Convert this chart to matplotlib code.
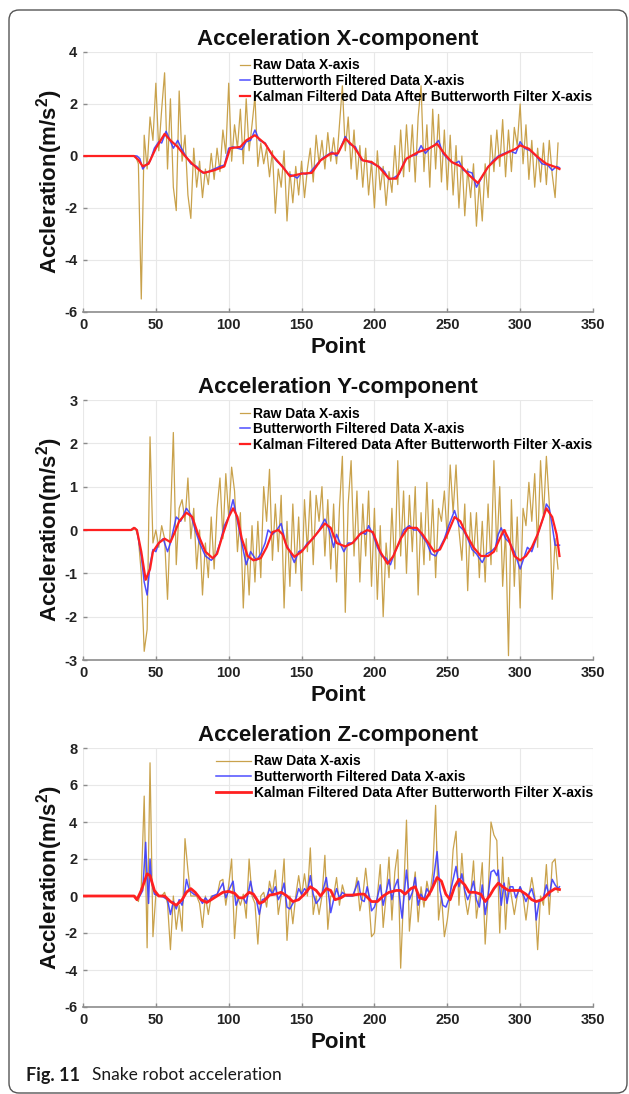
import numpy as np
import matplotlib
matplotlib.use("Agg")
import matplotlib.pyplot as plt
from matplotlib.patches import FancyBboxPatch
from matplotlib.transforms import IdentityTransform

plt.rcParams['font.family'] = ['Liberation Sans', 'DejaVu Sans']
plt.rcParams['mathtext.fontset'] = 'custom'
plt.rcParams['mathtext.rm'] = 'Liberation Sans:bold'
plt.rcParams['mathtext.bf'] = 'Liberation Sans:bold'
plt.rcParams['mathtext.it'] = 'Liberation Sans:bold'
plt.rcParams['axes.unicode_minus'] = False

# ---------------- data ----------------
raw_start, raw_stop, raw_step = 34, 327, 2   # sample index grid of the raw lists

raw_x_axis = [
    0, 0.0, -0.3, -5.5, 0.8, -0.5, 1.5, 0.6, 2.8, 0.2,
    1.8, 3.2, -0.5, 2.2, -1.2, -2.1, 2.5, -0.2, 0.8, -1.5,
    -2.4, 0.3, -1.2, -0.2, -1.6, -0.5, -1.1, 0.1, -0.9, 0.3,
    -0.6, 1.0, 0.1, 2.8, -0.2, 1.2, 0.3, 1.8, -0.3, 2.2,
    0.2, 1.2, 2.3, -0.4, 0.5, -0.3, 0.3, -0.8, 0.2, -2.2,
    -0.5, -1.2, 0.2, -2.5, -0.6, -1.8, -0.4, -1.5, -0.2, -1.6,
    -0.5, 0.3, -1.0, 0.8, -0.3, 0.6, -0.5, 0.9, -0.2, 0.7,
    -0.3, 1.2, 2.7, 0.2, 1.5, -0.5, 1.0, -0.9, 0.4, -1.2,
    0.3, -1.5, -0.2, -2.0, 0.2, -1.3, -0.4, -1.9, -0.6, -1.4,
    0.4, -1.1, 1.0, -0.8, 1.2, -0.6, 1.2, -1.0, 1.5, 2.7,
    -0.6, 1.2, -1.2, 1.8, -0.5, 1.6, -1.0, 1.0, -1.3, 0.8,
    -1.5, 0.4, -2.0, 0.0, -2.3, -0.5, -1.6, -0.3, -2.7, -1.0,
    -2.5, -0.3, -1.6, 0.8, -0.6, 1.0, -0.4, 1.4, -0.8, 1.0,
    -0.6, 1.1, 0.4, 2.0, -0.3, 1.2, -0.9, 0.6, -1.2, 0.3,
    -1.0, 0.5, -1.1, 0.6, -0.7, -1.6, 0.5]

bw_x_pts = [1, 35, 37, 39, 41, 43, 46, 49, 52, 54,
            57, 59, 62, 65, 67, 70, 74, 78, 82, 86,
            90, 94, 97, 100, 103, 106, 109, 112, 115, 118,
            121, 125, 129, 133, 137, 141, 144, 147, 150, 153,
            156, 160, 164, 168, 171, 174, 177, 180, 183, 187,
            191, 195, 199, 203, 207, 210, 213, 217, 221, 225,
            229, 232, 235, 238, 241, 244, 247, 251, 255, 258,
            261, 264, 267, 270, 273, 277, 281, 285, 289, 293,
            297, 300, 303, 307, 311, 315, 319, 322, 325, 327]
bw_x_val = [0, 0, 0.0, -0.1, -0.5, -0.35, -0.2, 0.3, 0.55, 0.5,
            0.95, 0.7, 0.3, 0.6, 0.35, 0.05, -0.3, -0.4, -0.65, -0.6,
            -0.5, -0.4, -0.35, 0.3, 0.35, 0.3, 0.25, 0.55, 0.6, 1.0,
            0.6, 0.5, 0.1, -0.2, -0.4, -0.7, -0.75, -0.85, -0.65, -0.7,
            -0.62, -0.35, -0.1, 0.05, 0.15, 0.0, 0.35, 0.75, 0.45, 0.35,
            -0.15, -0.2, -0.3, -0.4, -0.6, -0.9, -0.85, -0.7, -0.15, 0.0,
            0.05, 0.4, 0.1, 0.3, 0.4, 0.6, 0.1, -0.15, -0.3, -0.2,
            -0.55, -0.6, -0.65, -1.2, -0.9, -0.5, -0.2, 0.0, 0.1, 0.2,
            0.1, 0.55, 0.3, 0.2, 0.0, -0.3, -0.35, -0.55, -0.4, -0.45]

kf_x_pts = [1, 35, 38, 41, 45, 50, 56, 60, 65, 70,
            75, 80, 83, 90, 97, 101, 108, 112, 118, 125,
            130, 137, 142, 150, 157, 163, 170, 175, 180, 186,
            192, 198, 203, 210, 215, 222, 230, 237, 243, 248,
            253, 260, 265, 271, 278, 285, 292, 297, 300, 306,
            312, 318, 324, 327]
kf_x_val = [0, 0, -0.15, -0.4, -0.3, 0.3, 0.85, 0.6, 0.35, 0.0,
            -0.3, -0.55, -0.65, -0.55, -0.4, 0.3, 0.35, 0.6, 0.8, 0.47,
            0.03, -0.42, -0.78, -0.68, -0.65, -0.17, 0.09, 0.1, 0.67, 0.35,
            -0.17, -0.23, -0.42, -0.87, -0.87, -0.1, 0.15, 0.28, 0.47, 0.09,
            -0.23, -0.42, -0.74, -1.04, -0.42, -0.04, 0.15, 0.28, 0.41, 0.28,
            -0.04, -0.3, -0.42, -0.5]

raw_y_axis = [
    0, 0.05, -0.2, -1.0, -2.8, -2.3, 2.15, -0.3, 0.0, -0.4,
    0.1, -0.2, -1.6, 0.2, 2.25, -0.8, 0.5, 0.7, 0.2, 1.2,
    -0.2, 0.5, -0.9, 0.0, -1.5, -0.3, -1.1, 0.3, -0.9, 0.5,
    1.2, -0.2, 1.3, 0.3, 1.45, 0.9, -0.5, 0.4, -1.8, -0.2,
    -1.5, 0.1, -1.2, 0.2, -1.1, 1.0, 0.2, 1.4, -0.7, 0.6,
    -0.5, 0.8, -1.8, 0.2, -1.3, 0.6, -1.0, 0.3, -1.4, 0.7,
    -0.5, 0.9, -0.8, 0.8, 0.2, 1.0, -0.6, 0.7, -0.9, 0.6,
    -1.2, 0.5, 1.7, -1.9, 0.6, 1.6, -0.6, 0.9, -1.2, 0.6,
    -0.6, 0.9, -1.3, 0.5, -1.6, 0.1, -2.0, -0.3, -1.1, 0.5,
    -0.9, 1.6, -0.6, 0.9, -1.0, 0.8, -0.5, 1.0, -1.5, 0.4,
    -0.8, 1.1, -0.7, 0.7, -1.1, 0.5, 0.2, 0.9, -0.2, 1.5,
    0.4, 1.5, 0.0, -0.7, 0.6, -1.4, 0.4, -0.6, 0.4, -1.1,
    0.2, -1.2, 0.6, -0.8, 1.6, -0.5, 1.0, -1.3, 0.0, -2.9,
    0.7, -1.3, 0.3, -1.8, 0.5, 0.1, 1.1, 0.2, 1.3, -0.4,
    1.6, 0.3, 1.7, 0.6, -1.6, -0.2, -0.9]

bw_y_pts = [1, 33, 35, 37, 40, 42, 44, 46, 48, 50,
            52, 55, 58, 60, 62, 64, 67, 71, 74, 77,
            80, 84, 88, 91, 94, 97, 100, 103, 106, 109,
            112, 115, 119, 122, 125, 127, 130, 133, 136, 139,
            142, 145, 148, 151, 154, 158, 162, 166, 169, 172,
            174, 177, 179, 182, 185, 188, 191, 194, 196, 199,
            202, 205, 208, 211, 214, 217, 220, 224, 227, 230,
            233, 236, 239, 242, 245, 248, 251, 255, 258, 261,
            264, 267, 270, 274, 277, 280, 283, 285, 287, 290,
            293, 296, 300, 303, 305, 308, 311, 314, 316, 318,
            320, 322, 324, 327]
bw_y_val = [0, 0, 0.05, 0.0, -0.6, -1.2, -1.5, -0.8, -0.45, -0.5,
            -0.3, -0.2, -0.5, -0.3, 0.0, 0.3, 0.2, 0.5, 0.35, 0.0,
            -0.3, -0.6, -0.7, -0.6, -0.3, 0.1, 0.3, 0.7, 0.2, -0.3,
            -0.8, -0.5, -0.7, -0.55, -0.3, 0.0, -0.1, 0.0, 0.15, -0.3,
            -0.5, -0.75, -0.5, -0.45, -0.3, -0.2, 0.0, 0.25, 0.0, -0.4,
            -0.1, -0.35, -0.5, -0.3, -0.3, -0.2, -0.05, -0.1, 0.1, -0.1,
            -0.4, -0.6, -0.65, -0.8, -0.5, -0.3, 0.0, 0.1, 0.0, 0.0,
            -0.15, -0.3, -0.55, -0.6, -0.4, -0.2, 0.1, 0.45, 0.1, 0.0,
            -0.2, -0.45, -0.55, -0.75, -0.55, -0.5, -0.4, -0.1, 0.05, -0.2,
            -0.3, -0.5, -0.9, -0.6, -0.4, -0.5, -0.2, 0.1, 0.3, 0.6,
            0.5, 0.1, -0.35, -0.35]

kf_y_pts = [1, 33, 35, 37, 40, 43, 46, 48, 52, 56,
            60, 63, 66, 71, 75, 79, 84, 89, 92, 96,
            100, 103, 106, 109, 113, 117, 122, 126, 130, 134,
            137, 140, 145, 150, 155, 160, 166, 170, 174, 180,
            185, 190, 195, 199, 204, 209, 213, 218, 223, 229,
            233, 237, 241, 245, 250, 255, 259, 263, 268, 273,
            278, 282, 286, 289, 292, 296, 300, 304, 308, 312,
            315, 318, 322, 325, 327]
kf_y_val = [0, 0, 0.05, 0.0, -0.5, -1.15, -0.9, -0.5, -0.3, -0.2,
            -0.28, -0.05, 0.2, 0.4, 0.3, -0.1, -0.5, -0.65, -0.55, -0.1,
            0.3, 0.5, 0.3, -0.2, -0.6, -0.7, -0.65, -0.4, -0.05, 0.0,
            -0.1, -0.4, -0.62, -0.5, -0.3, -0.1, 0.15, 0.05, -0.3, -0.38,
            -0.3, -0.1, 0.0, -0.05, -0.5, -0.78, -0.6, -0.2, 0.05, 0.05,
            -0.1, -0.3, -0.5, -0.45, -0.1, 0.3, 0.2, -0.1, -0.4, -0.6,
            -0.6, -0.5, -0.2, 0.0, -0.2, -0.6, -0.7, -0.6, -0.4, -0.1,
            0.2, 0.5, 0.3, -0.1, -0.6]

raw_z_axis = [
    0, 0, -0.3, 0.5, 5.4, -2.8, 7.2, -2.2, 0.1, 0.0,
    0.0, 0.2, -0.4, -2.9, 0.0, -1.8, -0.5, -1.9, 3.1, 1.4,
    0.0, 0.0, 0.0, -0.4, -1.7, 0.0, -1.0, 0.0, 0.0, 0.0,
    0.8, 0.9, -0.5, 0.6, 2.0, -2.3, 0.0, -0.5, 0.1, -1.2,
    2.0, 0.0, -0.4, -2.6, 0.0, 0.2, -0.6, 0.8, 0.1, 1.4,
    -1.0, 0.0, 2.0, -2.4, 0.0, -1.5, 0.0, 1.1, 0.0, 1.2,
    0.0, 2.6, -1.0, 0.0, -1.0, 0.0, 2.2, -1.8, 0.0, 0.0,
    1.0, -0.5, 0.6, 0.0, 0.0, 0.0, 0.0, 1.0, -0.8, 0.0,
    1.5, 0.0, -2.2, -2.0, 0.0, 1.7, -1.7, 0.0, 2.1, -1.3,
    1.3, 2.5, -3.9, 0.0, 4.1, -1.9, 0.0, 1.3, -1.4, 0.5,
    -0.6, 0.8, 0.0, 1.3, 4.9, -1.3, 0.0, -2.2, -1.3, 0.0,
    2.5, 3.5, -0.5, 2.3, 0.0, -1.0, 0.0, 1.9, -1.2, 0.0,
    1.8, -2.6, 0.0, 4.0, 3.3, 3.0, -2.0, 2.1, -1.8, 1.0,
    0.0, -1.0, 0.0, 0.5, 0.0, -1.3, 0.0, 1.0, 0.0, -2.9,
    0.0, -0.5, 1.7, -1.0, 1.8, 2.0, 0.2]

bw_z_pts = [1, 35, 37, 39, 41, 43, 44, 45, 46, 47,
            49, 52, 55, 58, 60, 62, 64, 66, 68, 70,
            71, 73, 76, 79, 82, 84, 86, 89, 92, 94,
            96, 98, 100, 103, 105, 107, 110, 112, 115, 117,
            119, 121, 123, 126, 128, 130, 132, 134, 136, 138,
            140, 142, 144, 146, 148, 150, 152, 154, 156, 158,
            160, 162, 164, 167, 169, 170, 172, 174, 176, 178,
            181, 185, 189, 191, 193, 195, 197, 198, 200, 202,
            204, 206, 208, 210, 212, 214, 216, 218, 219, 221,
            222, 224, 226, 228, 230, 232, 234, 236, 238, 240,
            243, 245, 247, 249, 251, 254, 256, 258, 260, 262,
            264, 266, 268, 270, 272, 274, 276, 278, 280, 282,
            284, 285, 287, 289, 291, 293, 295, 297, 300, 302,
            304, 306, 308, 310, 311, 313, 316, 318, 320, 322,
            324, 326, 327]
bw_z_val = [0, 0, -0.2, 0.0, 0.3, 2.9, 1.0, -0.4, 2.0, 0.8,
            0.1, 0.0, -0.05, -0.2, -1.0, -0.3, -0.7, -0.2, -0.5, 0.3,
            0.9, 0.3, 0.1, 0.0, -0.4, -0.1, -0.3, 0.0, 0.1, 0.4,
            0.7, -0.1, 0.3, 0.8, -0.5, -0.1, -0.1, -0.4, 0.8, 0.0,
            -0.2, -1.0, -0.2, -0.1, 0.4, 0.1, 0.5, -0.2, 0.1, 0.7,
            -0.6, -0.7, -0.4, -0.2, 0.4, 0.1, 0.4, 0.2, 1.1, 0.1,
            -0.4, -0.2, 0.1, 1.0, -0.2, -0.9, -0.2, 0.4, -0.1, 0.2,
            0.0, 0.0, 0.8, -0.2, -0.3, 0.5, -0.2, -0.8, -0.6, -0.1,
            0.6, -0.5, 0.2, 0.9, -0.2, 0.5, 0.9, -0.6, -1.2, 0.6,
            1.4, -0.2, 0.2, 1.0, -0.5, 0.1, -0.2, 0.4, 0.1, 0.6,
            2.4, 0.3, -0.5, -0.6, -0.2, 0.9, 1.6, 0.5, 1.2, 0.3,
            -0.2, 0.2, 0.8, -0.2, -0.6, 0.6, -1.0, 0.0, 1.3, 1.4,
            1.1, 1.4, -0.5, 0.7, -0.4, 0.5, 0.5, -0.1, 0.5, 0.1,
            -0.3, 0.1, 0.4, -0.2, -1.3, -0.3, -0.1, 0.6, 0.0, 0.9,
            0.6, 0.4, 0.5]

kf_z_pts = [1, 35, 37, 40, 44, 46, 49, 52, 56, 60,
            64, 68, 71, 74, 77, 81, 85, 88, 92, 96,
            100, 104, 107, 110, 114, 117, 121, 124, 128, 132,
            136, 140, 144, 148, 152, 156, 160, 163, 167, 170,
            173, 177, 180, 185, 190, 193, 198, 202, 206, 210,
            215, 218, 221, 225, 228, 231, 235, 239, 243, 246,
            249, 252, 255, 258, 262, 265, 269, 273, 276, 279,
            282, 285, 288, 292, 296, 300, 304, 308, 311, 315,
            320, 324, 327]
kf_z_val = [0, 0, -0.2, 0.3, 1.2, 1.1, 0.3, 0.0, 0.0, -0.3,
            -0.5, -0.2, 0.2, 0.4, 0.2, -0.2, -0.35, -0.2, 0.0, 0.2,
            0.25, 0.15, -0.1, -0.1, 0.2, 0.1, -0.4, -0.3, 0.05, 0.1,
            0.2, 0.0, -0.3, -0.2, 0.1, 0.5, 0.3, 0.0, 0.4, 0.3,
            -0.2, -0.1, 0.05, 0.05, 0.1, 0.1, -0.3, -0.3, 0.0, 0.2,
            0.3, 0.3, 0.1, 0.4, 0.5, -0.1, -0.2, 0.3, 1.0, 0.8,
            0.1, -0.2, 0.5, 0.9, 0.6, 0.2, 0.2, 0.1, -0.3, 0.0,
            0.4, 0.7, 0.5, 0.3, 0.3, 0.3, 0.1, -0.2, -0.3, -0.2,
            0.2, 0.4, 0.35]

titles = ["Acceleration X-component", "Acceleration Y-component", "Acceleration Z-component"]
legend_labels = ["Raw Data X-axis", "Butterworth Filtered Data X-axis",
                 "Kalman Filtered Data After Butterworth Filter X-axis"]
y_limits = [(-6, 4), (-3, 3), (-6, 8)]
y_steps = [2, 1, 2]
x_ticks = [0, 50, 100, 150, 200, 250, 300, 350]

# ---------------- figure ----------------
W, H = 629, 1094
fig = plt.figure(figsize=(W / 100, H / 100), dpi=100)
fig.patch.set_facecolor('white')

RAW_C = '#C9A24C'
BW_C = '#3B3BFF'
KF_C = '#FF2020'

raw_idx = np.arange(raw_start, raw_stop, raw_step)

panels = [
    (raw_x_axis, bw_x_pts, bw_x_val, kf_x_pts, kf_x_val),
    (raw_y_axis, bw_y_pts, bw_y_val, kf_y_pts, kf_y_val),
    (raw_z_axis, bw_z_pts, bw_z_val, kf_z_pts, kf_z_val),
]
tops = [52, 400, 748]
bottoms = [312, 660, 1007]
left_px, right_px = 83, 593

for i, (raw, bwx, bwy, kfx, kfy) in enumerate(panels):
    ax = fig.add_axes([left_px / W, 1 - bottoms[i] / H,
                       (right_px - left_px) / W, (bottoms[i] - tops[i]) / H])
    xr = np.concatenate(([1], raw_idx))
    yr = np.concatenate(([0], raw))
    ax.plot(xr, yr, color=RAW_C, lw=0.9, label=legend_labels[0], zorder=2)
    ax.plot(bwx, bwy, color=BW_C, lw=1.1, alpha=0.9, label=legend_labels[1], zorder=3)
    ax.plot(kfx, kfy, color=KF_C, lw=1.6 if i < 2 else 2.0, label=legend_labels[2], zorder=4)

    ax.set_xlim(0, 350)
    ax.set_ylim(*y_limits[i])
    ax.set_xticks(x_ticks)
    ax.set_yticks(np.arange(y_limits[i][0], y_limits[i][1] + 0.1, y_steps[i]))
    ax.grid(True, color='#E8E8E8', lw=0.8)
    ax.set_axisbelow(True)
    for s in ['top', 'right', 'left']:
        ax.spines[s].set_visible(False)
    ax.spines['bottom'].set_color('#8C8C8C')
    ax.spines['bottom'].set_linewidth(1.2)
    ax.tick_params(direction='in', length=3, color='#8C8C8C', width=1,
                   labelsize=10.5, pad=4)
    for lab in ax.get_xticklabels() + ax.get_yticklabels():
        lab.set_fontweight('bold')
        lab.set_color('#222222')

    ax.set_title(titles[i], fontsize=16, fontweight='bold', pad=5, color='#111111')
    ax.set_xlabel('Point', fontsize=16, fontweight='bold', labelpad=4, color='#111111')
    ax.set_ylabel('Accleration(m/s$^2$)', fontsize=16, fontweight='bold', color='#111111')
    ax.yaxis.set_label_coords(-0.035, 0.5)

    if i < 2:
        hl, anchor_x = 0.75, (240 - left_px) / (right_px - left_px)
    else:
        hl, anchor_x = 2.5, (216 - left_px) / (right_px - left_px)
    leg = ax.legend(loc='upper left', bbox_to_anchor=(anchor_x, 0.975), frameon=False,
                    prop={'weight': 'bold', 'size': 10}, handlelength=hl,
                    handletextpad=0.2, labelspacing=0.12, borderpad=0, borderaxespad=0)

# caption
fig.text(26 / W, 1 - 1075 / H, 'Fig. 11', fontsize=13, fontweight='bold',
         family=['Lato', 'DejaVu Sans'], ha='left', va='center', color='#1a1a1a')
fig.text(92 / W, 1 - 1075 / H, 'Snake robot acceleration', fontsize=12.5,
         family=['Lato', 'DejaVu Sans'], ha='left', va='center', color='#1a1a1a')

# rounded frame
frame = FancyBboxPatch((9, 1), 618, 1083, boxstyle='round,pad=0,rounding_size=10',
                       transform=IdentityTransform(), fill=False, edgecolor='#555555',
                       lw=1.0)
fig.add_artist(frame)

fig.savefig('out.png', dpi=100)
